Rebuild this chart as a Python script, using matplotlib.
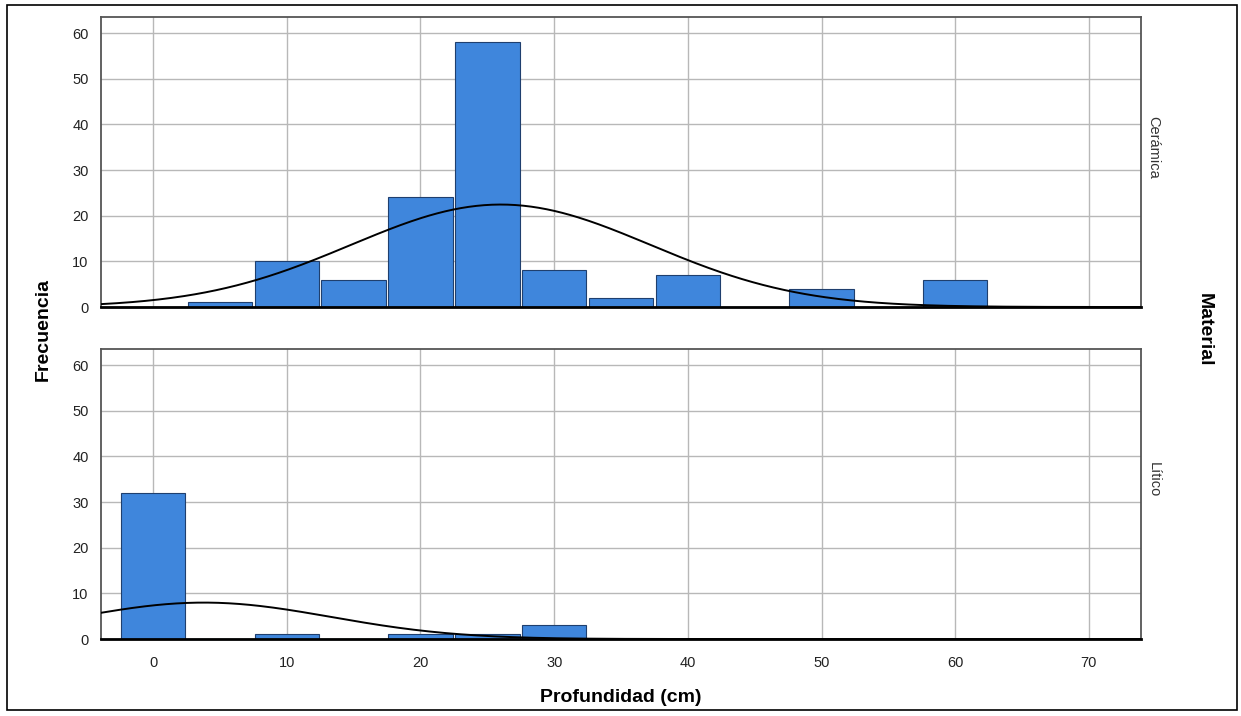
import numpy as np
import matplotlib
matplotlib.use("Agg")
import matplotlib.pyplot as plt
from matplotlib.patches import Rectangle

plt.rcParams['font.family'] = ['Liberation Sans', 'DejaVu Sans']

# bin centres (cm) and counts
bins = [0, 5, 10, 15, 20, 25, 30, 35, 40, 45, 50, 55, 60]
ceramica = [0, 1, 10, 6, 24, 58, 8, 2, 7, 0, 4, 0, 6]
litico = [32, 0, 1, 0, 1, 1, 3, 0, 0, 0, 0, 0, 0]
bin_width = 5

# fitted normal curve parameters (mean, sd) per panel
ceramica_fit = (26.0, 11.2)
litico_fit = (3.8, 9.5)

panels = ["Cerámica", "Lítico"]
xticks = [0, 10, 20, 30, 40, 50, 60, 70]
yticks = [0, 10, 20, 30, 40, 50, 60]

fig = plt.figure(figsize=(12.41, 7.16), dpi=100)
fig.patches.append(Rectangle((0.006, 0.008), 0.991, 0.985, transform=fig.transFigure,
                             fill=False, edgecolor='black', linewidth=1.2))

ax1 = fig.add_axes([0.0814, 0.5712, 0.838, 0.405])
ax2 = fig.add_axes([0.0814, 0.1075, 0.838, 0.405])

xs = np.linspace(-3.9, 73.9, 400)
for ax, counts, fit, name in [(ax1, ceramica, ceramica_fit, panels[0]),
                              (ax2, litico, litico_fit, panels[1])]:
    ax.set_axisbelow(True)
    ax.grid(True, color='#b8b8b8', linewidth=1.0)
    # bars slightly narrower than the bin so a thin white gap shows between them
    ax.bar(bins, counts, width=bin_width * 0.965, color='#3f86dc', edgecolor='#1f3f6e',
           linewidth=0.8, zorder=2)
    mu, sd = fit
    n = sum(counts)
    curve = n * bin_width / (sd * np.sqrt(2 * np.pi)) * np.exp(-0.5 * ((xs - mu) / sd) ** 2)
    ax.plot(xs, curve, color='black', linewidth=1.4, zorder=3)
    ax.set_xlim(-3.9, 73.9)
    ax.set_ylim(0, 63.5)
    ax.set_xticks(xticks)
    ax.set_yticks(yticks)
    ax.tick_params(length=0, labelsize=10.5, pad=9, colors='#222222')
    for s in ['top', 'right', 'left']:
        ax.spines[s].set_color('#555555')
        ax.spines[s].set_linewidth(1.3)
    ax.spines['bottom'].set_color('black')
    ax.spines['bottom'].set_linewidth(2.0)
    ax.text(1.012, 0.55, name, transform=ax.transAxes, rotation=-90,
            ha='center', va='center', fontsize=10.5, color='#333333')

ax1.tick_params(labelbottom=False)
ax2.tick_params(axis='x', pad=12)

fig.text(0.035, 0.54, "Frecuencia", rotation=90, ha='center', va='center',
         fontsize=14, fontweight='bold')
fig.text(0.5, 0.026, "Profundidad (cm)", ha='center', va='center',
         fontsize=14, fontweight='bold')
fig.text(0.97, 0.54, "Material", rotation=-90, ha='center', va='center',
         fontsize=14, fontweight='bold')

fig.savefig("out.png", dpi=100)
